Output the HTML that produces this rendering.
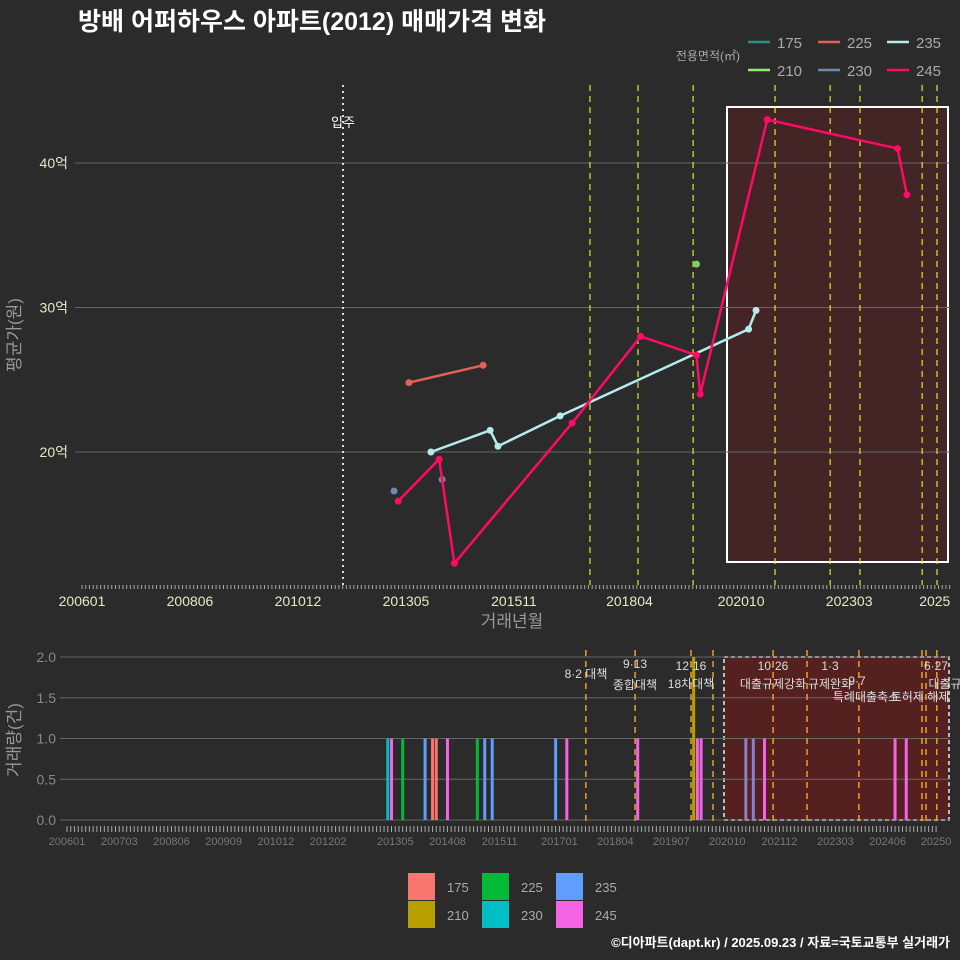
<!DOCTYPE html>
<html><head><meta charset="utf-8"><style>
body{margin:0;background:#2b2b2b;}
svg{display:block;font-family:"Liberation Sans","Noto Sans CJK KR",sans-serif;}
</style></head><body>
<svg id="c" width="960" height="960"></svg>
<script>
// ---- data ----
const s245Months=[84.9,95.9,100,131.6,150,165,166,184,219,221.5];
const s245Vals=[16.6,19.5,12.3,22.0,28.0,26.7,24.0,43.0,41.0,37.8];
const s235Months=[93.7,109.6,111.7,128.4,179,181];
const s235Vals=[20.0,21.5,20.4,22.5,28.5,29.8];
const s225Months=[87.8,107.7];
const s225Vals=[24.8,26.0];
const s230Months=[83.8,96.7];
const s230Vals=[17.3,18.1];
const s210Months=[165];
const s210Vals=[33.0];
const topTickMonths=[0,29,58,87,116,147,177,206,229];
const topTickLabels=['200601','200806','201012','201305','201511','201804','202010','202303','2025'];
const yTickVals=[20,30,40];
const yTickLabels=['20억','30억','40억'];
const barMonths=[86,87,90,96,98,99,102,110,112,114,131,134,153,169,170,182,184,187,222,225];
const barTypes=['230','245','225','235','175','175','245','225','235','235','235','245','245','245','245','mix','mix','245','245','245'];
const barVals=[1,1,1,1,1,1,1,1,1,1,1,1,1,1,1,1,1,1,1,1];
const bottomTickMonths=[0,14,28,42,56,70,88,102,116,132,147,162,177,191,206,220,233];
const bottomTickLabels=['200601','200703','200806','200909','201012','201202','201305','201408','201511','201701','201804','201907','202010','202112','202303','202406','20250'];
const policyTop=[136.4,149.3,164.1,186.1,200.9,208.9,225.6,229.6];
const policyBottom=[139.1,152.3,167.3,173.2,189.3,198.4,212.3,229.2,230.3,233.2];
const barColors={'175':'#f8766d','210':'#b79f00','225':'#00ba38','230':'#00bfc4','235':'#619cff','245':'#f564e3','mix':'#8a80d0'};

const NS='http://www.w3.org/2000/svg';
const svg=document.getElementById('c');
function mk(tag,attrs,parent,text){const e=document.createElementNS(NS,tag);for(const k in attrs)e.setAttribute(k,attrs[k]);if(text!==undefined)e.textContent=text;(parent||svg).appendChild(e);return e;}
const xT=m=>82+m*3.724, yT=v=>452-(v-20)*14.45;
const xB=m=>67+m*3.73, yB=v=>820-v*81.5;

let t=mk('text',{x:78,y:30,fill:'#fff','font-size':25,'font-weight':'bold'},svg,'방배 어퍼하우스 아파트(2012) 매매가격 변화');


let g=mk('g',{});
let box=mk('rect',{x:727,y:107,width:221,height:455,fill:'#4a2426','fill-opacity':0.8,stroke:'#fff','stroke-width':2},g);

yTickVals.forEach((v,i)=>{
 let l=mk('line',{x1:75,x2:950,y1:yT(v),y2:yT(v),stroke:'#666'},g);
 let tx=mk('text',{x:68,y:yT(v)+5,fill:'#e8e8c8','font-size':14,'text-anchor':'end'},g,yTickLabels[i]);
});
policyTop.forEach(m=>{let l=mk('line',{x1:xT(m),x2:xT(m),y1:85,y2:585,stroke:'#e6e62a','stroke-dasharray':'6,5','stroke-width':1.2},g);});
let mv=mk('line',{x1:343,x2:343,y1:85,y2:585,stroke:'#ddd','stroke-dasharray':'2,4','stroke-width':2},g);
let mt=mk('text',{x:343,y:127,fill:'#fff','font-size':13,'text-anchor':'middle'},g,'입주');
for(let m=0;m<=233;m+=1){let l=mk('line',{x1:xT(m),x2:xT(m),y1:585,y2:589,stroke:'#aaa'},g);}
topTickMonths.forEach((m,i)=>{let tx=mk('text',{x:xT(m),y:606,fill:'#e8e8c8','font-size':14,'text-anchor':'middle'},g,topTickLabels[i]);});
let xa=mk('text',{x:512,y:627,fill:'#999','font-size':17,'text-anchor':'middle'},g,'거래년월');
let ya=mk('text',{x:20,y:335,fill:'#999','font-size':17,'text-anchor':'middle',transform:'rotate(-90 20 335)'},g,'평균가(원)');
function series(ms,vs,col,name,line){
 if(line&&ms.length>1){let p=mk('polyline',{points:ms.map((m,i)=>xT(m)+','+yT(vs[i])).join(' '),fill:'none',stroke:col,'stroke-width':2.5},g);}
 ms.forEach((m,i)=>{let c=mk('circle',{cx:xT(m),cy:yT(vs[i]),r:3.5,fill:col},g);});
}
series(s225Months,s225Vals,'#e0605a','225',true);
series(s230Months,s230Vals,'#6a8ab0','230',false);
series(s210Months,s210Vals,'#7ccf6a','210',false);
series(s235Months,s235Vals,'#b3ecec','235',true);
series(s245Months,s245Vals,'#ff0a64','245',true);
let lg=mk('g',{});
let lt=mk('text',{x:740,y:60,fill:'#aaa','font-size':12,'text-anchor':'end'},lg,'전용면적(㎡)');
[['175','#2a9080',748,42],['225','#e0605a',818,42],['235','#b3ecec',887,42],['210','#90ee70',748,70],['230','#6a8ab0',818,70],['245','#ff0a64',887,70]].forEach(e=>{
 let l=mk('line',{x1:e[2],x2:e[2]+22,y1:e[3],y2:e[3],stroke:e[1],'stroke-width':2.5},lg);
 let tx=mk('text',{x:e[2]+29,y:e[3]+6,fill:'#aaa','font-size':15},lg,e[0]);
});

let b=mk('g',{});
let bb=mk('rect',{x:724,y:657,width:225,height:163,fill:'#5a1f1f','fill-opacity':0.9,stroke:'#bbb','stroke-dasharray':'4,3','stroke-width':2},b);
[0,0.5,1,1.5,2].forEach(v=>{
 let l=mk('line',{x1:60,x2:950,y1:yB(v),y2:yB(v),stroke:'#666'},b);
 let tx=mk('text',{x:56,y:yB(v)+5,fill:'#888','font-size':14,'text-anchor':'end'},b,v.toFixed(1));
});
barMonths.forEach((m,i)=>{let r=mk('rect',{x:xB(m)-1.5,y:yB(barVals[i]),width:3,height:yB(0)-yB(barVals[i]),fill:barColors[barTypes[i]]},b);});
let yb=mk('rect',{x:xB(168)-1.5,y:yB(2),width:3,height:yB(0)-yB(2),fill:'#b79f00'},b);
policyBottom.forEach(m=>{let l=mk('line',{x1:xB(m),x2:xB(m),y1:650,y2:825,stroke:'#f0a020','stroke-dasharray':'6,5','stroke-width':1.5},b);});
[['8·2 대책',586,678],['9·13',635,668],['종합대책',635,689],['12·16',691,670],['18차대책',691,688],['10·26',773,670],['대출규제강화',773,688],['1·3',830,670],['규제완화',830,688],['9·7',857,685],['특례대출축소',866,701],['토허제 해제',920,701],['6·27',936,670],['대출규',945,688]].forEach(p=>{
 let tx=mk('text',{x:p[1],y:p[2],fill:'#ddd','font-size':12,'text-anchor':'middle'},b,p[0]);
});
for(let m=0;m<=233;m+=1){let l=mk('line',{x1:xB(m),x2:xB(m),y1:826,y2:832,stroke:'#aaa'},b);}
bottomTickMonths.forEach((m,i)=>{let tx=mk('text',{x:xB(m),y:845,fill:'#777','font-size':11,'text-anchor':'middle'},b,bottomTickLabels[i]);});
let yb2=mk('text',{x:20,y:740,fill:'#999','font-size':17,'text-anchor':'middle',transform:'rotate(-90 20 740)'},b,'거래량(건)');
let bl=mk('g',{});
[['175',408,873],['225',482,873],['235',556,873],['210',408,901],['230',482,901],['245',556,901]].forEach(e=>{
 let r=mk('rect',{x:e[1],y:e[2],width:27,height:27,fill:barColors[e[0]]},bl);
 let tx=mk('text',{x:e[1]+39,y:e[2]+19,fill:'#aaa','font-size':13},bl,e[0]);
});
let cr=mk('text',{x:950,y:947,fill:'#fff','font-size':13,'font-weight':'bold','text-anchor':'end'},svg,'©디아파트(dapt.kr) / 2025.09.23 / 자료=국토교통부 실거래가');

</script>
</body></html>
